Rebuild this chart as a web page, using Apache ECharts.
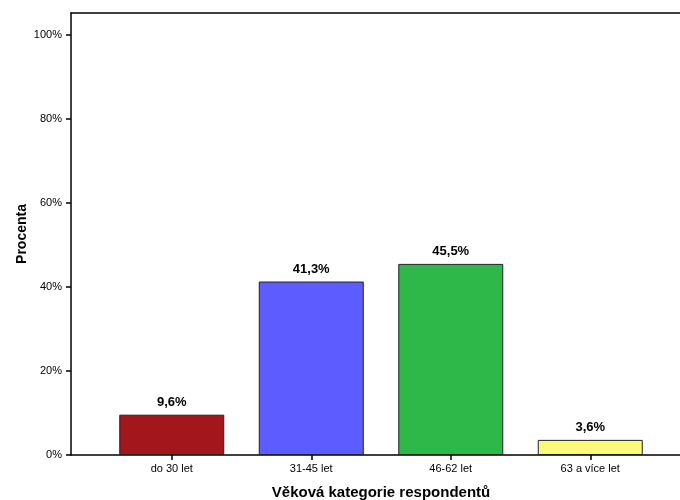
<!DOCTYPE html>
<html>
<head>
<meta charset="utf-8">
<script src="https://cdn.jsdelivr.net/npm/echarts@6/dist/echarts.min.js"></script>
<style>
  html, body { margin: 0; padding: 0; background: #fff; }
  #chart { width: 680px; height: 500px; }
</style>
</head>
<body>
<div id="chart"></div>
<script>
// Age groups of respondents and their share in percent
const categories = ['do 30 let', '31-45 let', '46-62 let', '63 a více let'];
const percentValues = [9.6, 41.3, 45.5, 3.6];
const barColors = ['#a3171c', '#5c5cff', '#2eb84a', '#fafa78'];
const yTicks = [0, 20, 40, 60, 80, 100];

const FONT = "'Liberation Sans', Arial, sans-serif";
const chart = echarts.init(document.getElementById('chart'));

const frameLine = { show: true, onZero: false, lineStyle: { color: '#000', width: 1.5 } };

chart.setOption({
  animation: false,
  textStyle: { fontFamily: FONT },
  grid: [
    // outer frame: left, top and bottom lines
    { left: 71, top: 13, right: -10, bottom: 45, containLabel: false, outerBoundsMode: 'none' },
    // data area
    { left: 102, top: 35, right: 20, bottom: 45, containLabel: false, outerBoundsMode: 'none' }
  ],
  xAxis: [
    {
      gridIndex: 0, type: 'value', position: 'top', min: 0, max: 1,
      axisLine: frameLine,
      axisTick: { show: false }, axisLabel: { show: false }, splitLine: { show: false }
    },
    {
      gridIndex: 0, type: 'value', position: 'bottom', min: 0, max: 1,
      axisLine: frameLine,
      axisTick: { show: false }, axisLabel: { show: false }, splitLine: { show: false }
    },
    {
      gridIndex: 1, type: 'category', data: categories, position: 'bottom',
      axisLine: { show: false },
      axisTick: { show: true, alignWithLabel: true, length: 5, lineStyle: { color: '#000', width: 1.5 } },
      axisLabel: { color: '#000', fontSize: 11, margin: 8, fontFamily: FONT },
      name: 'Věková kategorie respondentů',
      nameLocation: 'middle',
      nameGap: 30,
      nameTextStyle: { color: '#000', fontSize: 15, fontWeight: 'bold', fontFamily: FONT }
    }
  ],
  yAxis: [
    {
      gridIndex: 0, type: 'value', min: 0, max: 1,
      axisLine: frameLine,
      axisTick: { show: false }, axisLabel: { show: false }, splitLine: { show: false },
      name: 'Procenta',
      nameLocation: 'middle',
      nameGap: 42,
      nameRotate: 90,
      nameTextStyle: { color: '#000', fontSize: 14, fontWeight: 'bold', fontFamily: FONT }
    },
    {
      gridIndex: 1, type: 'value', min: 0, max: 100, interval: 20, offset: 31,
      axisLine: { show: false },
      axisTick: { show: true, length: 5, lineStyle: { color: '#000', width: 1.5 } },
      axisLabel: {
        color: '#000', fontSize: 11, margin: 9, fontFamily: FONT,
        formatter: v => yTicks.includes(v) ? v + '%' : ''
      },
      splitLine: { show: false }
    }
  ],
  series: [
    {
      type: 'bar',
      xAxisIndex: 2,
      yAxisIndex: 1,
      barWidth: 105,
      data: percentValues.map((v, i) => ({
        value: v,
        itemStyle: { color: barColors[i], borderColor: '#222', borderWidth: 1 }
      })),
      label: {
        show: true,
        position: 'top',
        distance: 6,
        color: '#000',
        fontSize: 13,
        fontWeight: 'bold',
        fontFamily: FONT,
        formatter: p => p.value.toFixed(1).replace('.', ',') + '%'
      }
    }
  ]
});
</script>
</body>
</html>
